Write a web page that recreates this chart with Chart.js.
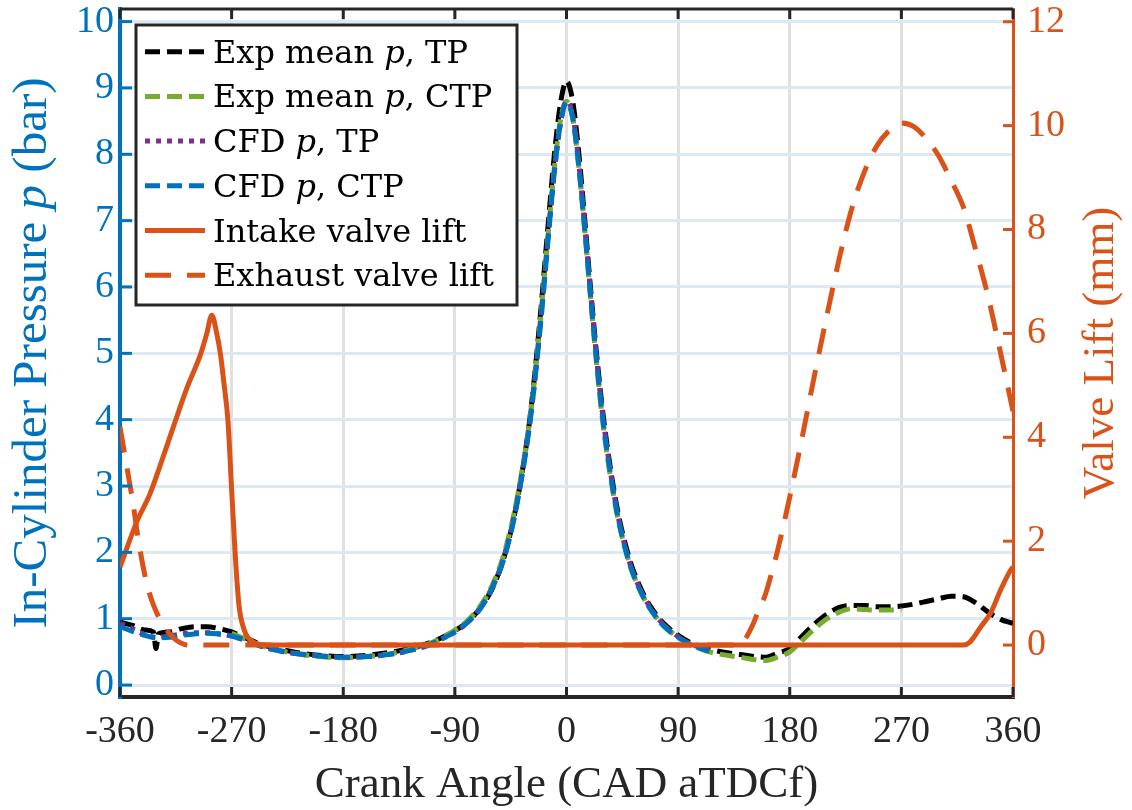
<!DOCTYPE html>
<html>
<head>
<meta charset="utf-8">
<script src="https://cdn.jsdelivr.net/npm/chart.js@4.4.1/dist/chart.umd.min.js"></script>
<style>
  html, body { margin: 0; padding: 0; background: #fff; }
  #wrap { width: 1132px; height: 810px; position: relative; }
</style>
</head>
<body>
<div id="wrap"><canvas id="myChart"></canvas></div>
<script>
// crank angle (CAD aTDCf) and in-cylinder pressure (bar)
const cadExpTP = [-360,-350,-340,-333,-331,-329,-320,-310,-300,-290,-280,-270,-260,-250,-240,
  -220,-200,-180,-160,-140,-120,-110,-100,-90,-80,-70,-60,-50,-40,-30,
  -25,-20,-15,-10,-5,0,5,10,15,20,25,30,40,50,60,70,80,90,100,110,120,
  140,160,170,180,190,200,210,220,230,240,250,260,270,280,290,300,310,320,330,340,350,360];
const pExpTP = [0.95,0.9,0.83,0.8,0.55,0.77,0.8,0.85,0.88,0.88,0.85,0.8,0.72,0.64,0.58,
  0.5,0.45,0.43,0.45,0.5,0.58,0.64,0.72,0.82,0.95,1.15,1.45,1.95,2.75,3.95,
  4.8,5.8,6.9,7.95,8.75,9.1,8.8,8.0,6.95,5.85,4.85,4.0,2.75,1.95,1.45,1.12,0.9,0.75,0.64,0.57,0.52,
  0.46,0.42,0.48,0.55,0.74,0.92,1.07,1.17,1.2,1.2,1.18,1.18,1.19,1.22,1.26,1.3,1.34,1.33,1.24,1.1,0.99,0.93];

const cadExpCTP = [-270,-260,-250,-240,-220,-200,-180,-160,-140,-120,-110,-100,-90,-80,-70,-60,-50,-40,-30,
  -25,-20,-15,-10,-5,0,5,10,15,20,25,30,40,50,60,70,80,90,100,110,120,
  140,160,170,180,190,200,210,220,230,240,250,260,270];
const pExpCTP = [0.78,0.7,0.62,0.56,0.48,0.43,0.41,0.43,0.48,0.57,0.63,0.72,0.83,0.97,1.18,1.5,2.0,2.8,3.95,
  4.75,5.7,6.75,7.75,8.5,8.8,8.55,7.8,6.8,5.7,4.7,3.85,2.65,1.88,1.4,1.08,0.87,0.72,0.61,0.53,0.48,
  0.42,0.37,0.42,0.5,0.67,0.85,1.0,1.1,1.15,1.14,1.13,1.13,1.14];

const cadCfd = [-360,-350,-340,-330,-320,-310,-300,-290,-280,-270,-260,-250,-240,
  -220,-200,-180,-160,-140,-120,-110,-100,-90,-80,-70,-60,-50,-40,-30,
  -25,-20,-15,-10,-5,0,5,10,15,20,25,30,40,50,60,70,80,90,100,110,115];
const pCfdTP = [0.93,0.85,0.76,0.72,0.74,0.77,0.79,0.79,0.77,0.74,0.68,0.61,0.55,
  0.48,0.44,0.42,0.43,0.47,0.55,0.61,0.7,0.8,0.94,1.15,1.47,1.95,2.75,3.9,
  4.7,5.65,6.7,7.7,8.45,8.8,8.6,7.85,6.85,5.8,4.8,3.95,2.7,1.9,1.42,1.1,0.88,0.73,0.62,0.55,0.52];
const pCfdCTP = [0.88,0.81,0.75,0.71,0.72,0.75,0.77,0.78,0.77,0.74,0.68,0.61,0.55,
  0.48,0.44,0.42,0.43,0.47,0.55,0.61,0.7,0.8,0.94,1.14,1.46,1.93,2.72,3.88,
  4.68,5.62,6.68,7.7,8.45,8.78,8.55,7.8,6.8,5.75,4.75,3.9,2.68,1.88,1.4,1.08,0.86,0.72,0.61,0.54,0.51];

// valve lift (mm)
const cadIntake = [-360,-346,-336,-327,-317,-306,-295,-290,-286,-282,-279,-276,-273,-270,-267,-264,-260,-257,-249,-240,
  320,325,334,342,350,358,360];
const liftIntake = [1.5,2.4,2.9,3.5,4.2,4.95,5.6,6.0,6.35,6.0,5.6,5.0,4.33,3.0,1.7,0.75,0.3,0.15,0.02,0,
  0,0.05,0.35,0.62,1.06,1.44,1.5];
const cadExhaust = [-360,-355,-350,-345,-340,-335,-330,-325,-320,-315,-310,-305,
  140,145,150,155,160,166,170,180,190,200,210,220,230,240,250,260,270,280,290,300,310,320,330,340,350,360];
const liftExhaust = [4.2,3.5,2.8,2.0,1.35,0.9,0.6,0.38,0.22,0.1,0.03,0,
  0,0.15,0.38,0.68,0.95,1.44,1.8,2.85,4.0,5.2,6.35,7.45,8.4,9.1,9.6,9.9,10.05,9.98,9.75,9.42,8.95,8.43,7.6,6.7,5.62,4.5];

const xTicksStep = 90;

const BLUE = '#0072BD', ORANGE = '#D95319', GREEN = '#77AC30', PURPLE = '#7E2F8E', AXIS = '#262626';
const SERIF = '"Liberation Serif", "Times New Roman", serif';
const LEGEND_FONT = '"DejaVu Serif", serif';

function pairs(xs, ys) {
  return xs.map((x, i) => ({ x: x, y: ys[i] }));
}

const data = {
  datasets: [
    { label: 'Exp mean $p$, TP', data: pairs(cadExpTP, pExpTP), yAxisID: 'y',
      borderColor: '#000000', borderWidth: 5, borderDash: [15, 7], order: 6 },
    { label: 'Exp mean $p$, CTP', data: pairs(cadExpCTP, pExpCTP), yAxisID: 'y',
      borderColor: GREEN, borderWidth: 5, borderDash: [15, 7], order: 5 },
    { label: 'CFD $p$, TP', data: pairs(cadCfd, pCfdTP), yAxisID: 'y',
      borderColor: PURPLE, borderWidth: 5, borderDash: [5, 6], order: 4 },
    { label: 'CFD $p$, CTP', data: pairs(cadCfd, pCfdCTP), yAxisID: 'y',
      borderColor: BLUE, borderWidth: 5, borderDash: [15, 7], order: 3 },
    { label: 'Intake valve lift', data: pairs(cadIntake, liftIntake), yAxisID: 'y1',
      borderColor: ORANGE, borderWidth: 5, borderDash: [], order: 2 },
    { label: 'Exhaust valve lift', data: pairs(cadExhaust, liftExhaust), yAxisID: 'y1',
      borderColor: ORANGE, borderWidth: 5, borderDash: [26, 16], order: 1 }
  ]
};

// text with $...$ parts set in italic
function drawRich(ctx, text, x, y, size, family, align) {
  const parts = text.split('$').map((t, i) => ({ t: t, italic: i % 2 === 1 })).filter(p => p.t);
  const fontFor = p => (p.italic ? 'italic ' : '') + size + 'px ' + family;
  let total = 0;
  parts.forEach(p => { ctx.font = fontFor(p); p.w = ctx.measureText(p.t).width; total += p.w; });
  let cx = align === 'center' ? x - total / 2 : x;
  ctx.textAlign = 'left';
  parts.forEach(p => { ctx.font = fontFor(p); ctx.fillText(p.t, cx, y); cx += p.w; });
}

const matlabFrame = {
  id: 'matlabFrame',
  afterDraw(chart) {
    const ctx = chart.ctx, a = chart.chartArea;
    const sx = chart.scales.x, yl = chart.scales.y, yr = chart.scales.y1;
    ctx.save();

    // box top edge
    ctx.strokeStyle = AXIS;
    ctx.lineWidth = 3;
    ctx.beginPath(); ctx.moveTo(a.left, a.top); ctx.lineTo(a.right, a.top); ctx.stroke();

    // inward tick marks
    sx.ticks.forEach(t => {
      const px = sx.getPixelForValue(t.value);
      ctx.beginPath();
      ctx.moveTo(px, a.bottom); ctx.lineTo(px, a.bottom - 10);
      ctx.moveTo(px, a.top); ctx.lineTo(px, a.top + 10);
      ctx.stroke();
    });
    ctx.strokeStyle = BLUE;
    yl.ticks.forEach(t => {
      const py = yl.getPixelForValue(t.value);
      ctx.beginPath(); ctx.moveTo(a.left, py); ctx.lineTo(a.left + 12, py); ctx.stroke();
    });
    ctx.strokeStyle = ORANGE;
    yr.ticks.forEach(t => {
      const py = yr.getPixelForValue(t.value);
      ctx.beginPath(); ctx.moveTo(a.right, py); ctx.lineTo(a.right - 10, py); ctx.stroke();
    });

    // axis titles
    const midY = (a.top + a.bottom) / 2;
    ctx.textBaseline = 'alphabetic';
    ctx.fillStyle = AXIS;
    drawRich(ctx, 'Crank Angle (CAD aTDCf)', (a.left + a.right) / 2, 797, 45, SERIF, 'center');
    ctx.save();
    ctx.translate(46, midY); ctx.rotate(-Math.PI / 2);
    ctx.fillStyle = BLUE;
    drawRich(ctx, 'In-Cylinder Pressure $p$ (bar)', 0, 0, 49, SERIF, 'center');
    ctx.restore();
    ctx.save();
    ctx.translate(1113, midY); ctx.rotate(-Math.PI / 2);
    ctx.fillStyle = ORANGE;
    drawRich(ctx, 'Valve Lift (mm)', 0, 0, 45, SERIF, 'center');
    ctx.restore();

    // legend box
    const box = { left: 136, top: 25, right: 517, bottom: 305 };
    ctx.fillStyle = '#ffffff';
    ctx.fillRect(box.left, box.top, box.right - box.left, box.bottom - box.top);
    ctx.strokeStyle = AXIS;
    ctx.lineWidth = 3;
    ctx.strokeRect(box.left, box.top, box.right - box.left, box.bottom - box.top);
    chart.data.datasets.forEach((ds, i) => {
      const ry = 51.7 + i * 44.7;
      ctx.strokeStyle = ds.borderColor;
      ctx.lineWidth = ds.borderWidth;
      ctx.setLineDash(ds.borderDash);
      ctx.beginPath(); ctx.moveTo(145, ry); ctx.lineTo(205, ry); ctx.stroke();
      ctx.setLineDash([]);
      ctx.fillStyle = '#000000';
      drawRich(ctx, ds.label, 213, ry + 11, 32, LEGEND_FONT, 'left');
    });
    ctx.restore();
  }
};

const config = {
  type: 'line',
  data: data,
  options: {
    responsive: true,
    maintainAspectRatio: false,
    animation: false,
    devicePixelRatio: 1,
    layout: { padding: { top: 9, left: 0, right: 0, bottom: 0 } },
    elements: {
      point: { radius: 0 },
      line: { cubicInterpolationMode: 'monotone', fill: false }
    },
    plugins: { legend: { display: false }, tooltip: { enabled: false } },
    scales: {
      x: {
        type: 'linear', min: -360, max: 360,
        ticks: { stepSize: xTicksStep, color: AXIS, font: { family: SERIF, size: 38 }, padding: 12,
          maxRotation: 0, autoSkip: false, callback: v => String(v) },
        grid: { color: '#e0e0e0', lineWidth: 3, drawTicks: false },
        border: { color: AXIS, width: 4 },
        afterFit: s => { s.height = 113; s.paddingLeft = 0; s.paddingRight = 0; }
      },
      y: {
        position: 'left', min: -0.18, max: 10.19,
        ticks: { stepSize: 1, includeBounds: false, color: BLUE, font: { family: SERIF, size: 38 }, padding: 6,
          callback: v => String(v) },
        grid: { color: '#dce9f5', lineWidth: 3, drawTicks: false },
        border: { color: BLUE, width: 4 },
        afterFit: s => { s.width = 120; s.paddingTop = 0; s.paddingBottom = 0; }
      },
      y1: {
        position: 'right', min: -1, max: 12.245,
        ticks: { stepSize: 2, includeBounds: false, color: ORANGE, font: { family: SERIF, size: 38 }, padding: 14,
          callback: v => String(v) },
        grid: { drawOnChartArea: false, drawTicks: false },
        border: { color: ORANGE, width: 3 },
        afterFit: s => { s.width = 119; s.paddingTop = 0; s.paddingBottom = 0; }
      }
    }
  },
  plugins: [matlabFrame]
};

const myChart = new Chart(document.getElementById('myChart'), config);
</script>
</body>
</html>
